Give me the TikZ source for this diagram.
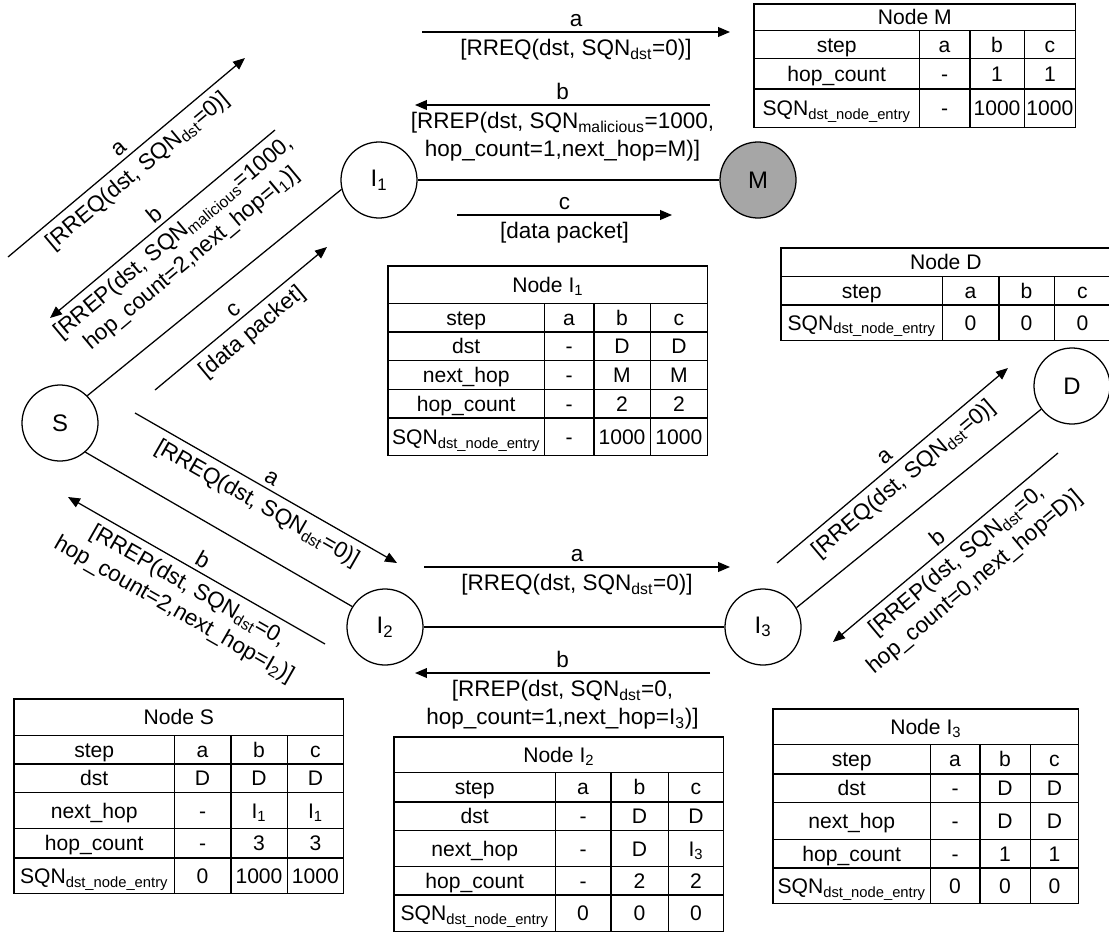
\documentclass[tikz,border=0pt]{standalone}
\usepackage{fontspec}
\setmainfont{Liberation Sans}
\usepackage{array}
\usetikzlibrary{arrows.meta}

\newlength\pxu
\setlength\pxu{0.025cm}
\setlength\arrayrulewidth{1pt}
\setlength\tabcolsep{0pt}
\renewcommand\arraystretch{0}
\newcolumntype{Y}[1]{>{\hbox to #1\pxu\bgroup\hss}c<{\hss\egroup}}
\newcommand\rh[1]{\rule[\dimexpr 0.36em-#1\pxu/2\relax]{0pt}{#1\pxu}}
\newcommand\SQN[1]{SQN\textsubscript{#1}}
\definecolor{malgray}{RGB}{166,166,166}

\tikzset{
  host/.style={circle, draw, line width=0.9pt, minimum size=1.9cm, inner sep=0pt, font=\fontsize{17}{20}\selectfont},
  link/.style={line width=0.9pt},
  msg/.style={line width=0.9pt, -{Triangle[length=8.5pt,width=7pt]}},
  msgtag/.style={midway, sloped, above, inner sep=3pt, font=\fontsize{16}{19.5}\selectfont},
  msgtext/.style={midway, sloped, below, inner sep=5pt, align=center, font=\fontsize{16}{19.5}\selectfont},
  tbl/.style={anchor=north west, inner sep=0pt}
}

\begin{document}
\begin{tikzpicture}[x=0.025cm, y=-0.025cm, font=\fontsize{15}{19}\selectfont]
\useasboundingbox (0,0) rectangle (1109,933);
% hosts:
\node[host] (S) at (60,423) {S};
\node[host] (I1) at (379,180) {I\textsubscript{1}};
\node[host, fill=malgray] (M) at (758,180) {M};
\node[host] (I2) at (385,627) {I\textsubscript{2}};
\node[host] (I3) at (763,627) {I\textsubscript{3}};
\node[host] (D) at (1072,386) {D};
% links:
\draw[link] (S.45) -- (I1.194);
\draw[link] (S.311) -- (I2.148);
\draw[link] (I1) -- (M);
\draw[link] (I2) -- (I3);
\draw[link] (I3.30) -- (D.217);
% messages I1 -- M:
\coordinate (m1s) at (422,32);  \coordinate (m1e) at (730,32);
\coordinate (m2s) at (710,105); \coordinate (m2e) at (415,105);
\coordinate (m3s) at (457,215); \coordinate (m3e) at (672,215);
\draw[msg] (m1s) -- (m1e) node[msgtag] {a} node[msgtext] {[RREQ(dst, \SQN{dst}=0)]};
\draw[msg] (m2s) -- (m2e) node[msgtag] {b} node[msgtext] {[RREP(dst, \SQN{malicious}=1000,\\hop\_count=1,next\_hop=M)]};
\draw[msg] (m3s) -- (m3e) node[msgtag] {c} node[msgtext] {[data packet]};
% messages S -- I1:
\coordinate (m4s) at (8,257);   \coordinate (m4e) at (245,58);
\coordinate (m5s) at (275,130); \coordinate (m5e) at (50,318);
\coordinate (m6s) at (155,390); \coordinate (m6e) at (327,247);
\draw[msg] (m4s) -- (m4e) node[msgtag] {a} node[msgtext] {[RREQ(dst, \SQN{dst}=0)]};
\draw[msg] (m5s) -- (m5e) node[msgtag] {b} node[msgtext] {[RREP(dst, \SQN{malicious}=1000,\\hop\_count=2,next\_hop=I\textsubscript{1})]};
\draw[msg] (m6s) -- (m6e) node[msgtag] {c} node[msgtext] {[data packet]};
% messages S -- I2:
\coordinate (m7s) at (135,413); \coordinate (m7e) at (397,563);
\coordinate (m8s) at (325,644); \coordinate (m8e) at (68,497);
\draw[msg] (m7s) -- (m7e) node[msgtag] {a} node[msgtext] {[RREQ(dst, \SQN{dst}=0)]};
\draw[msg] (m8s) -- (m8e) node[msgtag] {b} node[msgtext] {[RREP(dst, \SQN{dst}=0,\\hop\_count=2,next\_hop=I\textsubscript{2})]};
% messages I2 -- I3:
\coordinate (m9s) at (424,567);  \coordinate (m9e) at (730,567);
\coordinate (m10s) at (710,673); \coordinate (m10e) at (415,673);
\draw[msg] (m9s) -- (m9e) node[msgtag] {a} node[msgtext] {[RREQ(dst, \SQN{dst}=0)]};
\draw[msg] (m10s) -- (m10e) node[msgtag] {b} node[msgtext] {[RREP(dst, \SQN{dst}=0,\\hop\_count=1,next\_hop=I\textsubscript{3})]};
% messages I3 -- D:
\coordinate (m11s) at (777,563);  \coordinate (m11e) at (1008,368);
\coordinate (m12s) at (1058,453); \coordinate (m12e) at (833,642);
\draw[msg] (m11s) -- (m11e) node[msgtag] {a} node[msgtext] {[RREQ(dst, \SQN{dst}=0)]};
\draw[msg] (m12s) -- (m12e) node[msgtag] {b} node[msgtext] {[RREP(dst, \SQN{dst}=0,\\hop\_count=0,next\_hop=D)]};
% tables:
\node[tbl] (tabM) at (753,3) {\begin{tabular}{|Y{164}|Y{49}|Y{53}|Y{50}|}\hline
\multicolumn{4}{|c|}{\rh{25}Node M}\\\hline
\rh{27}step & a & b & c\\\hline
\rh{29}hop\_count & - & 1 & 1\\\hline
\rh{37}\SQN{dst\_node\_entry} & - & 1000 & 1000\\\hline
\end{tabular}};
\node[tbl] (tabI1) at (387,265) {\begin{tabular}{|Y{155}|Y{48}|Y{55}|Y{56}|}\hline
\multicolumn{4}{|c|}{\rh{36}Node I\textsubscript{1}}\\\hline
\rh{27}step & a & b & c\\\hline
\rh{27}dst & - & D & D\\\hline
\rh{28}next\_hop & - & M & M\\\hline
\rh{27}hop\_count & - & 2 & 2\\\hline
\rh{36}\SQN{dst\_node\_entry} & - & 1000 & 1000\\\hline
\end{tabular}};
\node[tbl] (tabD) at (780,247) {\begin{tabular}{|Y{160}|Y{55}|Y{54}|Y{55}|}\hline
\multicolumn{4}{|c|}{\rh{27}Node D}\\\hline
\rh{27}step & a & b & c\\\hline
\rh{34}\SQN{dst\_node\_entry} & 0 & 0 & 0\\\hline
\end{tabular}};
\node[tbl] (tabS) at (13,698) {\begin{tabular}{|Y{159}|Y{55}|Y{55}|Y{55}|}\hline
\multicolumn{4}{|c|}{\rh{35}Node S}\\\hline
\rh{27}step & a & b & c\\\hline
\rh{27}dst & D & D & D\\\hline
\rh{35}next\_hop & - & I\textsubscript{1} & I\textsubscript{1}\\\hline
\rh{28}hop\_count & - & 3 & 3\\\hline
\rh{34}\SQN{dst\_node\_entry} & 0 & 1000 & 1000\\\hline
\end{tabular}};
\node[tbl] (tabI2) at (393,736) {\begin{tabular}{|Y{160}|Y{54}|Y{56}|Y{54}|}\hline
\multicolumn{4}{|c|}{\rh{34}Node I\textsubscript{2}}\\\hline
\rh{28}step & a & b & c\\\hline
\rh{27}dst & - & D & D\\\hline
\rh{35}next\_hop & - & D & I\textsubscript{3}\\\hline
\rh{27}hop\_count & - & 2 & 2\\\hline
\rh{35}\SQN{dst\_node\_entry} & 0 & 0 & 0\\\hline
\end{tabular}};
\node[tbl] (tabI3) at (772,708) {\begin{tabular}{|Y{156}|Y{48}|Y{49}|Y{47}|}\hline
\multicolumn{4}{|c|}{\rh{34}Node I\textsubscript{3}}\\\hline
\rh{28}step & a & b & c\\\hline
\rh{27}dst & - & D & D\\\hline
\rh{36}next\_hop & - & D & D\\\hline
\rh{27}hop\_count & - & 1 & 1\\\hline
\rh{34}\SQN{dst\_node\_entry} & 0 & 0 & 0\\\hline
\end{tabular}};
\end{tikzpicture}
\end{document}
